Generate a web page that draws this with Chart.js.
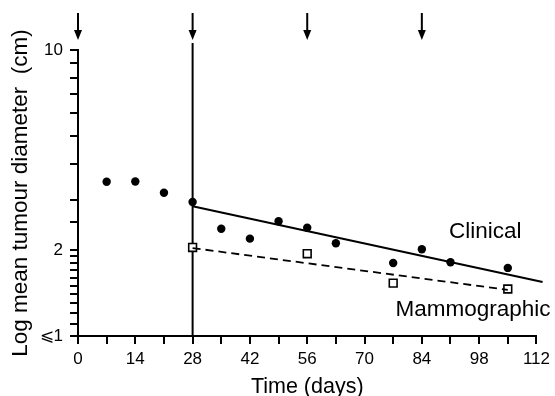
<!DOCTYPE html>
<html>
<head>
<meta charset="utf-8">
<script src="https://cdn.jsdelivr.net/npm/chart.js@4.4.1/dist/chart.umd.min.js"></script>
<style>
  body { margin: 0; background: #fff; }
  #wrap { width: 555px; height: 396px; }
</style>
</head>
<body>
<div id="wrap"><canvas id="chart" width="555" height="396"></canvas></div>
<script>
// data
const clinicalDays = [7, 14, 21, 28, 35, 42, 49, 56, 63, 77, 84, 91, 105]
const clinicalDiam = [3.46, 3.47, 3.17, 2.94, 2.37, 2.19, 2.52, 2.39, 2.11, 1.80, 2.01, 1.81, 1.73]

const mammoDays = [28, 56, 77, 105]
const mammoDiam = [2.04, 1.94, 1.53, 1.46]

// fitted regression lines
const clinicalFitDays = [28, 113.5]
const clinicalFitDiam = [2.84, 1.545]
const mammoFitDays = [28, 105]
const mammoFitDiam = [2.03, 1.45]

// treatment arrows + line at start of therapy
const arrowDays = [0, 28, 56, 84]
const startDay = 28

const xTickLabels = [0, 14, 28, 42, 56, 70, 84, 98, 112]
const yTickLabels = { 10: '10', 2: '2', 1: '\u2A7D1' }

const seriesLabels = [
  { text: 'Clinical', day: 99.5, diam: 2.32 },
  { text: 'Mammographic', day: 96.5, diam: 1.23 }
]

const FONT = '"Liberation Sans", Arial, Helvetica, sans-serif'

const pts = (xs, ys) => xs.map((x, i) => ({ x: x, y: ys[i] }))

const extras = {
  id: 'extras',
  beforeDatasetsDraw(chart) {
    const { ctx, chartArea, scales } = chart
    const x = scales.x.getPixelForValue(startDay)
    ctx.save()
    ctx.strokeStyle = '#000'
    ctx.lineWidth = 2
    ctx.beginPath()
    ctx.moveTo(x, chartArea.top - 7)
    ctx.lineTo(x, chartArea.bottom)
    ctx.stroke()
    ctx.restore()
  },
  afterDraw(chart) {
    const { ctx, chartArea, scales } = chart
    ctx.save()
    ctx.strokeStyle = '#000'
    ctx.fillStyle = '#000'
    arrowDays.forEach(d => {
      const x = scales.x.getPixelForValue(d)
      const y0 = chartArea.top - 37
      const y1 = chartArea.top - 10
      ctx.lineWidth = 2
      ctx.beginPath()
      ctx.moveTo(x, y0)
      ctx.lineTo(x, y1 - 8)
      ctx.stroke()
      ctx.beginPath()
      ctx.moveTo(x - 4, y1 - 10)
      ctx.lineTo(x + 4, y1 - 10)
      ctx.lineTo(x, y1)
      ctx.closePath()
      ctx.fill()
    })
    ctx.font = '22.5px ' + FONT
    ctx.textAlign = 'center'
    ctx.textBaseline = 'middle'
    seriesLabels.forEach(l => {
      ctx.fillText(l.text, scales.x.getPixelForValue(l.day), scales.y.getPixelForValue(l.diam))
    })
    ctx.restore()
  }
}

new Chart(document.getElementById('chart'), {
  type: 'scatter',
  data: {
    datasets: [
      {
        label: 'Clinical fit',
        data: pts(clinicalFitDays, clinicalFitDiam),
        showLine: true,
        borderColor: '#000',
        borderWidth: 2,
        pointRadius: 0,
        clip: false
      },
      {
        label: 'Mammographic fit',
        data: pts(mammoFitDays, mammoFitDiam),
        showLine: true,
        borderColor: '#000',
        borderWidth: 1.8,
        borderDash: [8, 5],
        pointRadius: 0
      },
      {
        label: 'Clinical',
        data: pts(clinicalDays, clinicalDiam),
        pointStyle: 'circle',
        pointRadius: 4.2,
        backgroundColor: '#000',
        borderColor: '#000',
        borderWidth: 0
      },
      {
        label: 'Mammographic',
        data: pts(mammoDays, mammoDiam),
        pointStyle: 'rect',
        pointRadius: 5.5,
        backgroundColor: '#fff',
        borderColor: '#000',
        borderWidth: 1.6
      }
    ]
  },
  options: {
    responsive: false,
    animation: false,
    layout: { padding: { top: 50, right: 18, left: 0, bottom: 0 } },
    plugins: { legend: { display: false }, tooltip: { enabled: false } },
    scales: {
      x: {
        type: 'linear',
        min: 0,
        max: 112,
        afterFit: s => { s.height = 60 },
        border: { display: true, color: '#000', width: 2 },
        grid: { drawOnChartArea: false, drawTicks: true, tickLength: 8, color: '#000', lineWidth: 2 },
        ticks: {
          stepSize: 7,
          autoSkip: false,
          maxRotation: 0,
          padding: 5,
          color: '#000',
          font: { family: FONT, size: 17 },
          callback: v => xTickLabels.includes(v) ? String(v) : ''
        },
        title: {
          display: true,
          text: 'Time (days)',
          color: '#000',
          font: { family: FONT, size: 21.5, lineHeight: 0.8 },
          padding: { top: 3, bottom: 0 }
        }
      },
      y: {
        type: 'logarithmic',
        min: 1,
        max: 10,
        afterFit: s => { s.width = 78 },
        border: { display: true, color: '#000', width: 2 },
        grid: { drawOnChartArea: false, drawTicks: true, tickLength: 8, color: '#000', lineWidth: 2 },
        ticks: {
          autoSkip: false,
          padding: 7,
          color: '#000',
          font: { family: FONT, size: 17 },
          callback: v => yTickLabels[v] || ''
        },
        title: {
          display: true,
          text: 'Log mean tumour diameter  (cm)',
          color: '#000',
          font: { family: FONT, size: 22.5 },
          padding: { top: 7, bottom: 0 }
        }
      }
    }
  },
  plugins: [extras]
})
</script>
</body>
</html>
